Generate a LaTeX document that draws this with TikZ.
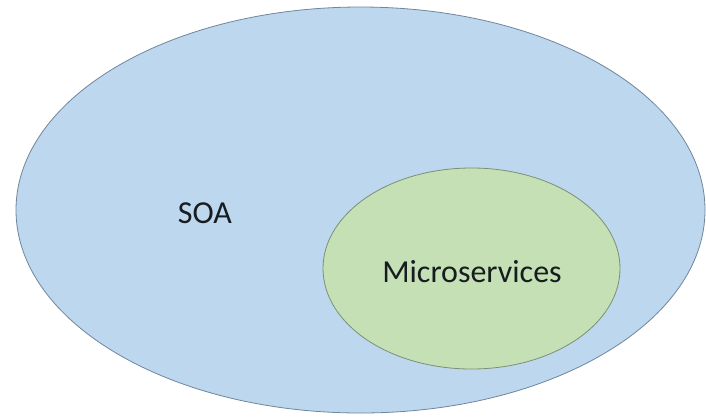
\documentclass[tikz,border=0pt]{standalone}
\usepackage{fontspec}
\setmainfont{Carlito}
\usetikzlibrary{shapes.geometric}

\definecolor{soablau}{RGB}{189,215,238}
\definecolor{soarand}{RGB}{112,134,156}
\definecolor{msgruen}{RGB}{197,224,180}
\definecolor{msrand}{RGB}{122,144,118}
\definecolor{schrift}{RGB}{22,28,32}

\begin{document}
\begin{tikzpicture}[x=1pt,y=-1pt,
    menge/.style={
      ellipse,
      inner sep=0pt,
      line width=.8pt,
      draw},
    beschriftung/.style={
      font=\fontsize{32}{38}\selectfont,
      text=schrift,
      inner sep=0pt}
    ]

  \useasboundingbox[fill=white] (0,0) rectangle (706,416);

  \node at (360.5,210) (soa) [menge, fill=soablau, draw=soarand, minimum width=689pt, minimum height=406pt] {};
  \node at (471.5,268.5) (micro) [menge, fill=msgruen, draw=msrand, minimum width=297pt, minimum height=201pt] {};

  \node at (205,213) (soatext) [beschriftung] {SOA};
  \node at (472,272) (microtext) [beschriftung] {Microservices};

\end{tikzpicture}
\end{document}
